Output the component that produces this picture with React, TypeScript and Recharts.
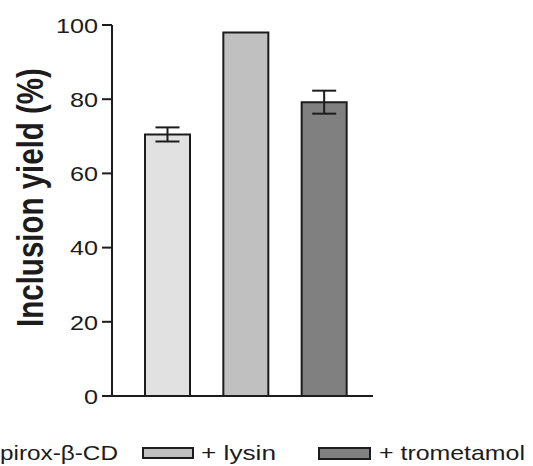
import React from "react";
import { BarChart, Bar, XAxis, YAxis, ErrorBar, Cell } from "recharts";

const categories = ["pirox-β-CD", "+ lysin", "+ trometamol"];
const yieldValues = [70.5, 98.0, 79.2];
const yieldErrors = [1.9, 0, 3.1];
const yTicks = [0, 20, 40, 60, 80, 100];
const yLabel = "Inclusion yield (%)";

const barFills = ["#e1e1e1", "#c0c0c0", "#808080"];
const INK = "#1c1c1c";
const FONT = "'Liberation Sans', Arial, Helvetica, sans-serif";
const SX = 1.23;

const data = categories.map((name, i) => ({
  name,
  value: yieldValues[i],
  err: yieldErrors[i],
}));

const YTick = (props: any) => {
  const { x, y, payload } = props;
  return (
    <g transform={`translate(${x},${y})`}>
      <text
        transform={`scale(${SX},1)`}
        textAnchor="end"
        dy="0.38em"
        fontSize={20.5}
        fontFamily={FONT}
        fill={INK}
      >
        {payload.value}
      </text>
    </g>
  );
};

const YTitle = () => (
  <text
    transform={`translate(43,197.5) scale(${SX},1) rotate(-90)`}
    textAnchor="middle"
    fontSize={29.5}
    fontWeight="bold"
    fontFamily={FONT}
    fill={INK}
  >
    {yLabel}
  </text>
);

const legendText = (label: string, x: number, len: number) => (
  <text
    x={x}
    y={460}
    textLength={len}
    lengthAdjust="spacingAndGlyphs"
    fontSize={21}
    fontFamily={FONT}
    fill={INK}
  >
    {label}
  </text>
);

const Legend = () => (
  <svg
    width={533}
    height={466}
    style={{ position: "absolute", left: 0, top: 0, pointerEvents: "none" }}
  >
    {legendText(categories[0], 0, 118)}
    <rect x={143} y={448} width={50} height={10} fill={barFills[1]} stroke={INK} strokeWidth={2} />
    {legendText(categories[1], 201, 75)}
    <rect x={319} y={448} width={51} height={11} fill={barFills[2]} stroke={INK} strokeWidth={2} />
    {legendText(categories[2], 379, 146)}
  </svg>
);

export default function App() {
  return (
    <div
      style={{
        position: "fixed",
        left: 0,
        top: 0,
        width: 533,
        height: 466,
        background: "#fff",
        overflow: "hidden",
      }}
    >
      <BarChart
        width={533}
        height={466}
        data={data}
        margin={{ top: 25, right: 160, bottom: 68, left: 0 }}
        barSize={45}
      >
        <XAxis
          dataKey="name"
          tick={false}
          tickLine={false}
          height={2}
          padding={{ left: 16, right: 10 }}
          axisLine={{ stroke: INK, strokeWidth: 2 }}
        />
        <YAxis
          width={112}
          domain={[0, 100]}
          ticks={yTicks}
          interval={0}
          tickSize={10}
          tickMargin={4}
          tick={YTick}
          tickLine={{ stroke: INK, strokeWidth: 2 }}
          axisLine={{ stroke: INK, strokeWidth: 2 }}
          label={YTitle}
        />
        <Bar dataKey="value" stroke={INK} strokeWidth={2} isAnimationActive={false}>
          {data.map((d, i) => (
            <Cell key={d.name} fill={barFills[i]} />
          ))}
          <ErrorBar dataKey="err" width={12} stroke={INK} strokeWidth={2} direction="y" />
        </Bar>
      </BarChart>
      <Legend />
    </div>
  );
}
